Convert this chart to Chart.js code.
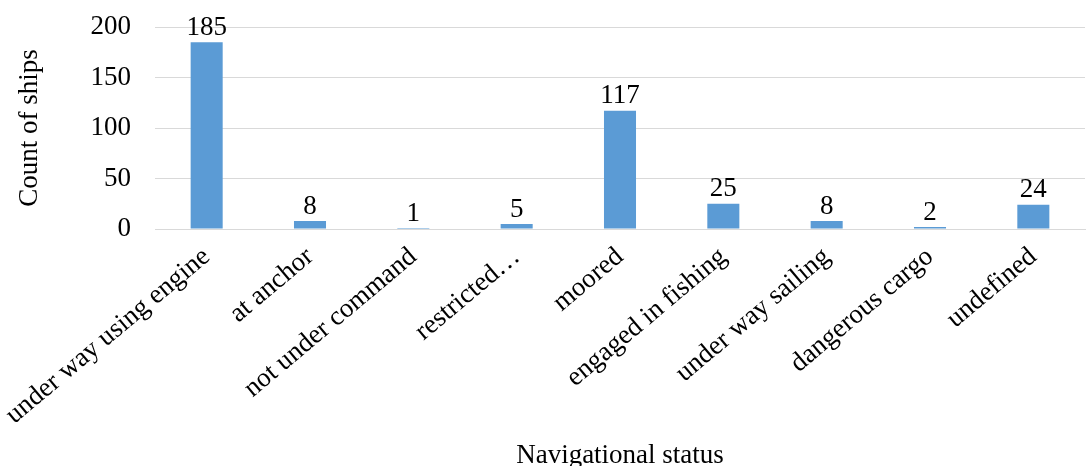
<!DOCTYPE html>
<html>
<head>
<meta charset="utf-8">
<script src="https://cdn.jsdelivr.net/npm/chart.js@4.4.1/dist/chart.umd.min.js"></script>
<style>
  html, body { margin: 0; padding: 0; background: #ffffff; }
  #wrap { width: 1087px; height: 466px; position: relative; }
</style>
</head>
<body>
<div id="wrap"><canvas id="chart"></canvas></div>
<script>
// Ship counts per AIS navigational status
const statuses = [
  "under way using engine",
  "at anchor",
  "not under command",
  "restricted\u2026",
  "moored",
  "engaged in fishing",
  "under way sailing",
  "dangerous cargo",
  "undefined"
];
const shipCounts = [185, 8, 1, 5, 117, 25, 8, 2, 24];
const yTicks = [0, 50, 100, 150, 200];

const FONT = "'Liberation Serif', 'Times New Roman', serif";
const FONT_SIZE = 27;
const BAR_COLOR = "#5b9bd5";
const GRID_COLOR = "#d9d9d9";

// Writes each bar's value just above it
const valueLabels = {
  id: "valueLabels",
  afterDatasetsDraw(chart) {
    const ctx = chart.ctx;
    const meta = chart.getDatasetMeta(0);
    ctx.save();
    ctx.font = FONT_SIZE + "px " + FONT;
    ctx.fillStyle = "#000000";
    ctx.textAlign = "center";
    ctx.textBaseline = "bottom";
    meta.data.forEach((bar, i) => {
      ctx.fillText(String(chart.data.datasets[0].data[i]), bar.x, bar.y - 1);
    });
    ctx.restore();
  }
};

new Chart(document.getElementById("chart"), {
  type: "bar",
  data: {
    labels: statuses,
    datasets: [{
      data: shipCounts,
      backgroundColor: BAR_COLOR,
      borderWidth: 0,
      categoryPercentage: 1,
      barPercentage: 0.31
    }]
  },
  options: {
    responsive: true,
    maintainAspectRatio: false,
    animation: false,
    layout: { padding: { top: 27, right: 2, left: 14, bottom: 0 } },
    plugins: {
      legend: { display: false },
      tooltip: { enabled: false }
    },
    scales: {
      x: {
        grid: { display: false, drawTicks: false },
        border: { display: true, color: GRID_COLOR, width: 1 },
        ticks: {
          color: "#000000",
          font: { family: FONT, size: FONT_SIZE },
          maxRotation: 40,
          minRotation: 40,
          autoSkip: false,
          padding: 12
        },
        title: {
          display: true,
          text: "Navigational status",
          color: "#000000",
          font: { family: FONT, size: FONT_SIZE },
          padding: { top: 0, bottom: -6 }
        },
        afterFit(scale) {
          scale.height = 237;
          scale.paddingLeft = 0;
          scale.paddingRight = 0;
        }
      },
      y: {
        min: 0,
        max: 200,
        afterBuildTicks(scale) { scale.ticks = yTicks.map(v => ({ value: v })); },
        grid: { color: GRID_COLOR, drawTicks: false },
        border: { display: false },
        ticks: {
          color: "#000000",
          font: { family: FONT, size: FONT_SIZE },
          padding: 24
        },
        title: {
          display: true,
          text: "Count of ships",
          color: "#000000",
          font: { family: FONT, size: FONT_SIZE },
          padding: { top: 0, bottom: 0 }
        },
        afterFit(scale) {
          scale.width = 141;
          scale.paddingTop = 0;
          scale.paddingBottom = 0;
        }
      }
    }
  },
  plugins: [valueLabels]
});
</script>
</body>
</html>
